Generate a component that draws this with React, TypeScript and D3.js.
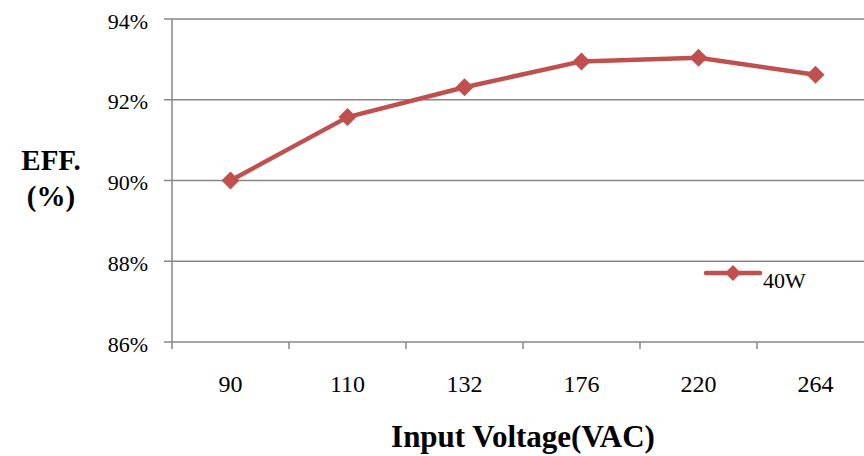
import React from "react";
import * as d3 from "d3";

const categories = ["90", "110", "132", "176", "220", "264"];
const eff40W = [90.0, 91.57, 92.31, 92.95, 93.04, 92.62];
const yTicks = [86, 88, 90, 92, 94];
const seriesName = "40W";

const W = 864;
const H = 456;
const left = 172;
const right = 874;
const top = 19;
const bottom = 342;
const color = "#C0504D";
const gridColor = "#878787";
const serif = "Liberation Serif, Tinos, Times New Roman, serif";

export default function App() {
  const x = d3.scaleBand<string>().domain(categories).range([left, right]);
  const y = d3.scaleLinear().domain([86, 94]).range([bottom, top]);
  const cx = (c: string) => (x(c) as number) + x.bandwidth() / 2;
  const line = d3
    .line<number>()
    .x((_, i) => cx(categories[i]))
    .y((d) => y(d));
  const diamond = (px: number, py: number, r: number) =>
    `M${px},${py - r}L${px + r},${py}L${px},${py + r}L${px - r},${py}Z`;
  const boundaries = categories.map((c) => x(c) as number).concat([right]);

  return (
    <svg
      width={W}
      height={H}
      style={{ position: "absolute", left: 0, top: 0, background: "#fff", fontFamily: serif }}
    >
      <rect x={0} y={0} width={W} height={H} fill="#fff" />
      {yTicks.map((t) => (
        <g key={t}>
          <line x1={left - 8} x2={right} y1={y(t)} y2={y(t)} stroke={gridColor} strokeWidth={1.5} />
          <text
            x={148}
            y={y(t) + 2}
            dy="0.35em"
            textAnchor="end"
            style={{ fontFamily: serif }}
            fontSize={22}
            fill="#000"
          >
            {t}%
          </text>
        </g>
      ))}
      <line x1={left} x2={left} y1={top} y2={bottom} stroke={gridColor} strokeWidth={1.5} />
      {boundaries.map((b, i) => (
        <line key={i} x1={b} x2={b} y1={bottom} y2={bottom + 7} stroke={gridColor} strokeWidth={1.5} />
      ))}
      {categories.map((c) => (
        <text
          key={c}
          x={cx(c)}
          y={392}
          textAnchor="middle"
          style={{ fontFamily: serif }}
          fontSize={24}
          fill="#000"
        >
          {c}
        </text>
      ))}
      <path
        d={line(eff40W) || ""}
        fill="none"
        stroke={color}
        strokeWidth={4.5}
        strokeLinejoin="round"
        strokeLinecap="round"
      />
      {eff40W.map((v, i) => (
        <path key={i} d={diamond(cx(categories[i]), y(v), 9)} fill={color} />
      ))}
      <line x1={706} x2={760} y1={273} y2={273} stroke={color} strokeWidth={4.5} strokeLinecap="round" />
      <path d={diamond(733, 273, 8)} fill={color} />
      <text x={763} y={288} style={{ fontFamily: serif }} fontSize={22} fill="#000">
        {seriesName}
      </text>
      <text
        x={51}
        y={170}
        textAnchor="middle"
        style={{ fontFamily: serif }}
        fontWeight="bold"
        fontSize={29}
        fill="#000"
      >
        EFF.
      </text>
      <text
        x={51}
        y={206}
        textAnchor="middle"
        style={{ fontFamily: serif }}
        fontWeight="bold"
        fontSize={29}
        fill="#000"
      >
        (%)
      </text>
      <text
        x={(left + right) / 2}
        y={447}
        textAnchor="middle"
        style={{ fontFamily: serif }}
        fontWeight="bold"
        fontSize={31}
        fill="#000"
      >
        Input Voltage(VAC)
      </text>
    </svg>
  );
}
